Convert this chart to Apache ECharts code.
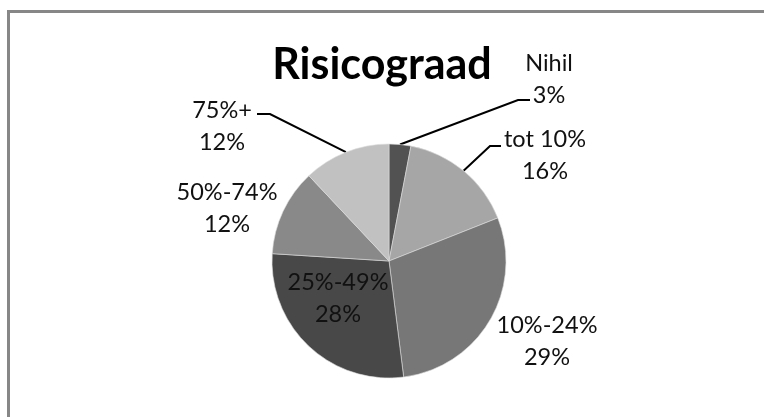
<!DOCTYPE html>
<html>
<head>
<meta charset="utf-8">
<script src="https://cdn.jsdelivr.net/npm/echarts@6/dist/echarts.min.js"></script>
<style>
  html, body { margin: 0; padding: 0; background: #fff; }
  #chart { width: 764px; height: 417px; }
</style>
</head>
<body>
<div id="chart"></div>
<script>
// risk classes and their share (%), clockwise from the top
var categories = ['Nihil', 'tot 10%', '10%-24%', '25%-49%', '50%-74%', '75%+'];
var shares = [3, 16, 29, 28, 12, 12];
var sliceColors = ['#525252', '#a6a6a6', '#777777', '#484848', '#898989', '#c1c1c1'];

// where each label block sits and where its leader line bends (null = no line)
var labelPos = [[549, 79], [545, 155], [547, 341], [338, 298], [227, 208], [222, 126]];
var lineBends = [
  [[518, 100], [530, 100]],
  [[490, 146], [501, 146]],
  null,
  null,
  null,
  [[270, 114], [257, 114]]
];

var chart = echarts.init(document.getElementById('chart'), null, { renderer: 'canvas' });

var pieData = categories.map(function (name, i) {
  var item = {
    name: name,
    value: shares[i],
    itemStyle: { color: sliceColors[i] },
    labelLine: { show: lineBends[i] !== null }
  };
  if (name === '25%-49%') {
    item.label = { position: 'inside' };
  }
  return item;
});

var option = {
  animation: false,
  backgroundColor: '#ffffff',
  title: {
    text: 'Risicograad',
    left: 'center',
    top: 44,
    padding: [0, 0, 0, 24],
    textStyle: {
      fontFamily: 'Lato',
      fontWeight: 'bold',
      fontSize: 43,
      color: '#000'
    }
  },
  graphic: [
    {
      type: 'line',
      shape: { x1: 7, y1: 11.5, x2: 764, y2: 11.5 },
      style: { stroke: '#878787', lineWidth: 3 },
      silent: true
    },
    {
      type: 'line',
      shape: { x1: 8.5, y1: 10, x2: 8.5, y2: 417 },
      style: { stroke: '#878787', lineWidth: 3 },
      silent: true
    }
  ],
  series: [{
    type: 'pie',
    center: [389, 261],
    radius: 117,
    startAngle: 90,
    clockwise: true,
    avoidLabelOverlap: false,
    emphasis: { disabled: true },
    itemStyle: { borderColor: '#dddddd', borderWidth: 0.6 },
    label: {
      show: true,
      position: 'outside',
      formatter: '{b}\n{c}%',
      fontFamily: 'Lato',
      fontSize: 23.5,
      lineHeight: 32,
      color: '#111',
      align: 'center'
    },
    labelLine: {
      show: true,
      length: 20,
      length2: 10,
      lineStyle: { color: '#000', width: 2 }
    },
    labelLayout: function (params) {
      var p = labelPos[params.dataIndex];
      var out = { x: p[0], y: p[1], align: 'center', verticalAlign: 'middle' };
      var bend = lineBends[params.dataIndex];
      if (bend && params.labelLinePoints) {
        out.labelLinePoints = [params.labelLinePoints[0], bend[0], bend[1]];
      }
      return out;
    },
    data: pieData
  }]
};

chart.setOption(option);
</script>
</body>
</html>
